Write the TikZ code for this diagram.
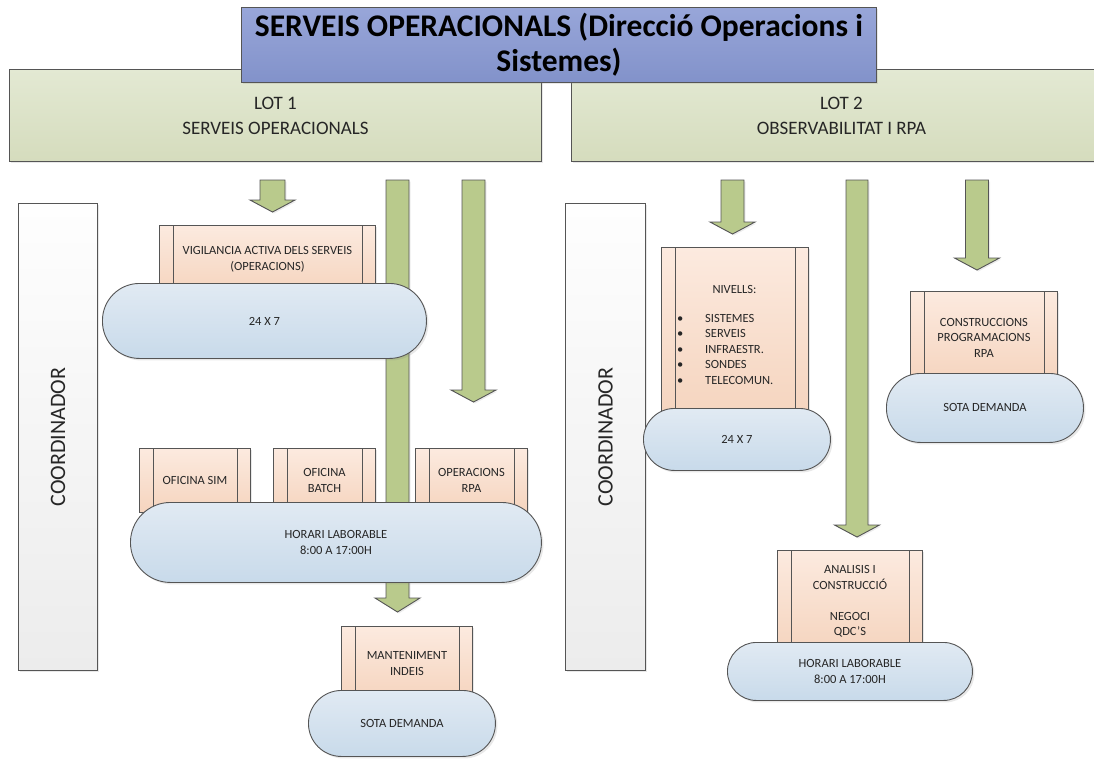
\documentclass[tikz,border=0pt]{standalone}
\usepackage{fontspec}
\setmainfont{Carlito}
\usetikzlibrary{shadows}

\definecolor{titletop}{HTML}{98A6D9}
\definecolor{titlebot}{HTML}{8292CA}
\definecolor{lottop}{HTML}{E3E9D3}
\definecolor{lotbot}{HTML}{D5DCBD}
\definecolor{coordtop}{HTML}{FEFEFE}
\definecolor{coordbot}{HTML}{ECECEC}
\definecolor{proctop}{HTML}{FCEADF}
\definecolor{procbot}{HTML}{F5D4BE}
\definecolor{pilltop}{HTML}{E1EAF3}
\definecolor{pillbot}{HTML}{C8DAEA}
\definecolor{arrowfill}{HTML}{B9CA8C}
\definecolor{edge}{HTML}{555555}
\definecolor{txt}{HTML}{262626}

\tikzset{
  boxbase/.style={draw=edge, line width=0.9pt, inner sep=0pt, text=txt,
    drop shadow={shadow xshift=2pt, shadow yshift=-2pt, opacity=0.18}},
  titlebox/.style={boxbase, top color=titletop, bottom color=titlebot, anchor=north west,
    align=center, font=\bfseries\fontsize{31.5}{35}\selectfont, text=black},
  lotbox/.style={boxbase, top color=lottop, bottom color=lotbot, anchor=north west,
    align=center, font=\fontsize{19}{25}\selectfont},
  coordbox/.style={boxbase, top color=coordtop, bottom color=coordbot, anchor=north west},
  coordtext/.style={rotate=90, text=txt, font=\fontsize{22}{26}\selectfont},
  procbox/.style={boxbase, top color=proctop, bottom color=procbot, anchor=north west,
    align=center, font=\fontsize{12.5}{15.5}\selectfont,
    path picture={\draw[edge, line width=0.9pt]
      ([xshift=13.5pt]path picture bounding box.north west) -- ([xshift=13.5pt]path picture bounding box.south west)
      ([xshift=-13.5pt]path picture bounding box.north east) -- ([xshift=-13.5pt]path picture bounding box.south east);}},
  pill/.style={boxbase, top color=pilltop, bottom color=pillbot, anchor=north west,
    align=center, font=\fontsize{12.5}{15.5}\selectfont},
  smalltext/.style={text=txt, inner sep=0pt, font=\fontsize{12.5}{15.5}\selectfont},
  blockarrow/.style={draw=edge, line width=0.9pt, fill=arrowfill, line join=miter,
    drop shadow={shadow xshift=1.5pt, shadow yshift=-1.5pt, opacity=0.15}}
}

% downward block arrow: centre x, half shaft width, top, head top, tip
\newcommand\blockdown[5]{%
  \draw[blockarrow] ({#1-#2},#3) -- ({#1+#2},#3) -- ({#1+#2},#4) -- ({#1+22.5},#4)
    -- (#1,#5) -- ({#1-22.5},#4) -- ({#1-#2},#4) -- cycle;}

\begin{document}
\begin{tikzpicture}[x=1pt, y=-1pt]
\useasboundingbox (0,0) rectangle (1094,758);

% lots and heading
\node[lotbox, minimum width=532pt, minimum height=92pt] (lot1) at (9,69) {LOT 1\\SERVEIS OPERACIONALS};
\node[lotbox, minimum width=540pt, minimum height=92pt] (lot2) at (571,69) {LOT 2\\OBSERVABILITAT I RPA};
\node[titlebox, minimum width=635pt, minimum height=75pt] (title) at (241,7)
  {SERVEIS OPERACIONALS (Direcció Operacions i\\Sistemes)};

% coordinators
\node[coordbox, minimum width=79pt, minimum height=467pt] (coord1) at (18,203) {};
\node[coordtext] (coord1t) at (coord1.center) {COORDINADOR};
\node[coordbox, minimum width=80pt, minimum height=467pt] (coord2) at (565,203) {};
\node[coordtext] (coord2t) at (coord2.center) {COORDINADOR};

% flow arrows
\blockdown{272.5}{12.5}{180}{200}{212}
\blockdown{397.5}{11.5}{180}{598}{612}
\blockdown{473.5}{11.5}{180}{390}{402}
\blockdown{732.5}{11.5}{180}{222}{234}
\blockdown{857}{11}{180}{525}{537}
\blockdown{977}{11.5}{180}{258}{270}

% LOT 1 services
\node[procbox, minimum width=216pt, minimum height=68pt] (vig) at (159,225)
  {VIGILANCIA ACTIVA DELS SERVEIS\\(OPERACIONS)};
\node[pill, minimum width=324pt, minimum height=75pt, rounded corners=37pt] (p247a) at (102,283) {24 X 7};

\node[procbox, minimum width=111pt, minimum height=64pt] (sim) at (139,448) {OFICINA SIM};
\node[procbox, minimum width=102pt, minimum height=64pt] (batch) at (273,448) {OFICINA\\BATCH};
\node[procbox, minimum width=112pt, minimum height=64pt] (oprpa) at (415,448) {OPERACIONS\\RPA};
\node[pill, minimum width=411pt, minimum height=80pt, rounded corners=40pt] (horaria) at (130,502)
  {HORARI LABORABLE\\8:00 A 17:00H};

\node[procbox, minimum width=131pt, minimum height=74pt] (mant) at (341,626) {MANTENIMENT\\INDEIS};
\node[pill, minimum width=187pt, minimum height=66pt, rounded corners=33pt] (sotaa) at (308,690) {SOTA DEMANDA};

% LOT 2 services
\node[procbox, minimum width=147pt, minimum height=171pt] (niv) at (661,247) {};
\node[smalltext] (nivhead) at (734.5,289) {NIVELLS:};
\node[smalltext, anchor=west, align=left] (nivlist) at (677,349)
  {\makebox[28pt][l]{•}SISTEMES\\\makebox[28pt][l]{•}SERVEIS\\\makebox[28pt][l]{•}INFRAESTR.\\
   \makebox[28pt][l]{•}SONDES\\\makebox[28pt][l]{•}TELECOMUN.};
\node[pill, minimum width=187pt, minimum height=62pt, rounded corners=31pt] (p247b) at (643,408) {24 X 7};

\node[procbox, minimum width=147pt, minimum height=92pt] (constr) at (910,291)
  {CONSTRUCCIONS\\PROGRAMACIONS\\RPA};
\node[pill, minimum width=197pt, minimum height=69pt, rounded corners=34pt] (sotab) at (886,373) {SOTA DEMANDA};

\node[procbox, minimum width=145pt, minimum height=102pt] (anal) at (777,550)
  {ANALISIS I\\CONSTRUCCIÓ\\[15.5pt]NEGOCI\\QDC'S};
\node[pill, minimum width=245pt, minimum height=58pt, rounded corners=29pt] (horarib) at (727,642)
  {HORARI LABORABLE\\8:00 A 17:00H};
\end{tikzpicture}
\end{document}
